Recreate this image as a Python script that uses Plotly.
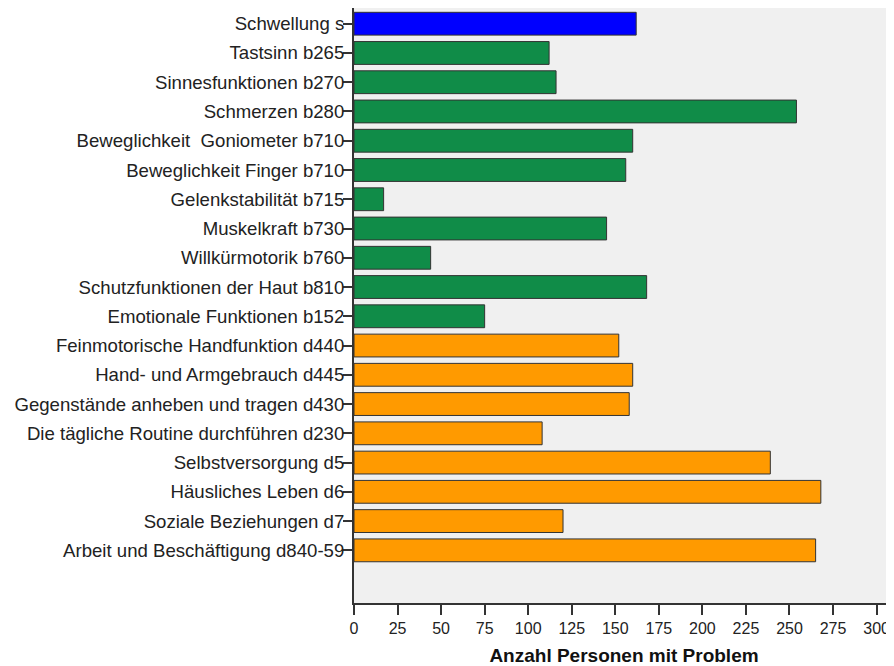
import plotly.graph_objects as go

categories = [
    "Schwellung s",
    "Tastsinn b265",
    "Sinnesfunktionen b270",
    "Schmerzen b280",
    "Beweglichkeit  Goniometer b710",
    "Beweglichkeit Finger b710",
    "Gelenkstabilität b715",
    "Muskelkraft b730",
    "Willkürmotorik b760",
    "Schutzfunktionen der Haut b810",
    "Emotionale Funktionen b152",
    "Feinmotorische Handfunktion d440",
    "Hand- und Armgebrauch d445",
    "Gegenstände anheben und tragen d430",
    "Die tägliche Routine durchführen d230",
    "Selbstversorgung d5",
    "Häusliches Leben d6",
    "Soziale Beziehungen d7",
    "Arbeit und Beschäftigung d840-59",
]
values = [162, 112, 116, 254, 160, 156, 17, 145, 44, 168, 75,
          152, 160, 158, 108, 239, 268, 120, 265]
groups = ["s"] + ["b"] * 10 + ["d"] * 8
group_colors = {"s": "#0000ff", "b": "#108c48", "d": "#ff9a00"}
x_ticks = [0, 25, 50, 75, 100, 125, 150, 175, 200, 225, 250, 275, 300]

colors = [group_colors[g] for g in groups]
labels_display = [c.replace("  ", "\u00a0 ") for c in categories]

fig = go.Figure(
    go.Bar(
        x=values,
        y=labels_display,
        orientation="h",
        width=0.78,
        marker=dict(color=colors, line=dict(color="#333333", width=1)),
        hoverinfo="x+y",
    )
)

# the page body has an 8px margin, so the figure is drawn at (8, 8)
fig.update_layout(
    width=886,
    height=658,
    margin=dict(l=346, r=0, t=0, b=63),
    paper_bgcolor="white",
    plot_bgcolor="#f0f0f0",
    showlegend=False,
    font=dict(family="Liberation Sans, Arial, sans-serif", size=18.6, color="#222222"),
)

fig.update_xaxes(
    range=[0, 310],
    tickmode="array",
    tickvals=x_ticks,
    ticktext=[str(t) for t in x_ticks],
    ticks="outside",
    ticklen=10,
    tickwidth=1.5,
    tickcolor="#333333",
    showline=True,
    linewidth=2,
    linecolor="#333333",
    showgrid=False,
    zeroline=False,
    tickfont=dict(family="Liberation Sans Narrow, Arial Narrow, Liberation Sans, sans-serif", size=16, color="#222222"),
    title=dict(
        text="<b>Anzahl Personen mit Problem</b>",
        font=dict(family="Liberation Sans, Arial, sans-serif", size=19, color="#111111"),
        standoff=13,
    ),
)

fig.update_yaxes(
    type="category",
    categoryorder="array",
    categoryarray=labels_display,
    range=[19.80, -0.537],
    ticks="outside",
    ticklen=9,
    tickwidth=1.5,
    tickcolor="#333333",
    ticklabelstandoff=-5,
    showline=True,
    linewidth=2,
    linecolor="#333333",
    showgrid=False,
    zeroline=False,
    automargin=False,
    tickfont=dict(family="Liberation Sans, Arial, sans-serif", size=18.6, color="#222222"),
)

fig.write_html("out.html")
